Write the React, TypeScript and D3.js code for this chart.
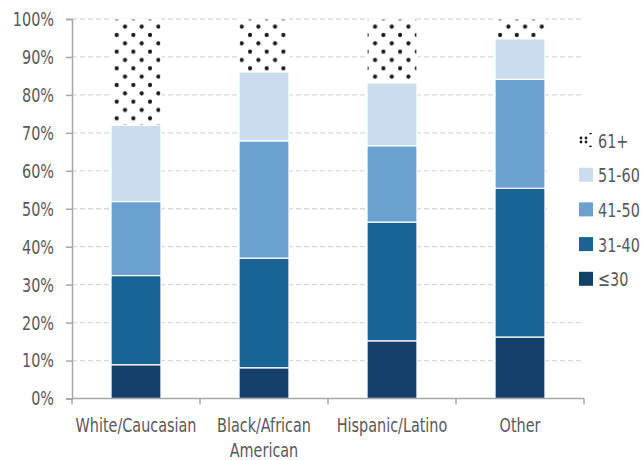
import React, { useEffect, useRef } from 'react';
import * as d3 from 'd3';

const categories = ['White/Caucasian', 'Black/African American', 'Hispanic/Latino', 'Other'];
const ageGroups = ['≤30', '31-40', '41-50', '51-60', '61+'];

// share of each age group per category, in percent
const under30 = [8.9, 8.1, 15.2, 16.2];
const age31to40 = [23.5, 28.9, 31.3, 39.2];
const age41to50 = [19.5, 30.9, 20.1, 28.7];
const age51to60 = [20.1, 18.2, 16.6, 10.7];
const over60 = [28.0, 13.9, 16.8, 5.2];

const yTicks = [0, 10, 20, 30, 40, 50, 60, 70, 80, 90, 100];

const colors = ['#12406a', '#186595', '#6aa1cf', '#cadcee', 'url(#dots)'];

const FONT = '"DejaVu Sans", sans-serif';
const TEXT = '#595959';
const SQUEEZE = 0.8;

// condensed text, squeezed a bit more to get near the tall narrow original face
const styleText = (sel: any, size: number) =>
  sel
    .attr('fill', TEXT)
    .attr('font-family', FONT)
    .style('font-stretch', 'condensed')
    .attr('font-size', size);

const App: React.FC = () => {
  const chartRef = useRef<SVGSVGElement>(null);

  useEffect(() => {
    const width = 643;
    const height = 460;
    const margin = { top: 19, right: 59, bottom: 61.5, left: 72 };
    const plotW = width - margin.left - margin.right;
    const plotH = height - margin.top - margin.bottom;

    const svg = d3.select(chartRef.current);
    svg.selectAll('*').remove();
    svg.attr('width', width).attr('height', height);

    // dotted fill for the 61+ group
    const defs = svg.append('defs');
    const pat = defs
      .append('pattern')
      .attr('id', 'dots')
      .attr('patternUnits', 'userSpaceOnUse')
      .attr('x', 0)
      .attr('y', 1.67)
      .attr('width', 16.67)
      .attr('height', 16.67);
    pat.append('rect').attr('width', 16.67).attr('height', 16.67).attr('fill', '#fff');
    [[0, 0], [16.67, 0], [0, 16.67], [16.67, 16.67], [8.33, 8.33]].forEach(([cx, cy]) =>
      pat.append('circle').attr('cx', cx).attr('cy', cy).attr('r', 2.1).attr('fill', '#1a1a1a')
    );

    const rows = categories.map((c, i) => ({
      category: c,
      '≤30': under30[i],
      '31-40': age31to40[i],
      '41-50': age41to50[i],
      '51-60': age51to60[i],
      '61+': over60[i],
    }));

    const stack = d3.stack<any>().keys(ageGroups);
    const series = stack(rows);

    const x = d3
      .scaleBand()
      .domain(categories)
      .range([margin.left, margin.left + plotW])
      .paddingInner(0.61)
      .paddingOuter(0.305);

    const y = d3
      .scaleLinear()
      .domain([0, 100])
      .range([margin.top + plotH, margin.top]);

    // grid lines
    svg
      .append('g')
      .selectAll('line')
      .data(yTicks.filter((t) => t > 0))
      .join('line')
      .attr('x1', margin.left)
      .attr('x2', margin.left + plotW)
      .attr('y1', (d) => y(d))
      .attr('y2', (d) => y(d))
      .attr('stroke', '#d9d9d9')
      .attr('stroke-width', 1.3)
      .attr('stroke-dasharray', '5,3');

    // stacked bars
    svg
      .append('g')
      .selectAll('g')
      .data(series)
      .join('g')
      .attr('fill', (_, i) => colors[i])
      .selectAll('rect')
      .data((d) => d)
      .join('rect')
      .attr('x', (d) => x(d.data.category) as number)
      .attr('width', x.bandwidth())
      .attr('y', (d) => y(d[1]))
      .attr('height', (d) => y(d[0]) - y(d[1]))
      .attr('stroke', '#fff')
      .attr('stroke-width', 1.2);

    // y axis
    const yAxis = svg
      .append('g')
      .attr('transform', `translate(${margin.left},0)`)
      .call(
        d3
          .axisLeft(y)
          .tickValues(yTicks)
          .tickSize(6)
          .tickPadding(12)
          .tickFormat((d) => `${d}%`)
      );
    yAxis.select('.domain').attr('stroke', '#a6a6a6').attr('stroke-width', 1.5);
    yAxis.selectAll('.tick line').attr('stroke', '#a6a6a6').attr('stroke-width', 1.5);
    styleText(yAxis.selectAll('.tick text'), 20)
      .attr('x', 0)
      .attr('transform', `translate(-18,0) scale(${SQUEEZE},1)`);

    // x axis with ticks between categories
    const xAxisG = svg.append('g').attr('transform', `translate(0,${margin.top + plotH})`);
    xAxisG
      .append('line')
      .attr('x1', margin.left)
      .attr('x2', margin.left + plotW)
      .attr('stroke', '#a6a6a6')
      .attr('stroke-width', 1.5);
    const step = x.step();
    xAxisG
      .selectAll('line.tick')
      .data(d3.range(categories.length + 1))
      .join('line')
      .attr('class', 'tick')
      .attr('x1', (i) => margin.left + i * step)
      .attr('x2', (i) => margin.left + i * step)
      .attr('y1', 0)
      .attr('y2', 6)
      .attr('stroke', '#a6a6a6')
      .attr('stroke-width', 1.5);

    const labelLines = categories.flatMap((c) =>
      (c === 'Black/African American' ? ['Black/African', 'American'] : [c]).map((t, i) => ({
        c,
        t,
        i,
      }))
    );
    styleText(
      xAxisG
        .selectAll('text')
        .data(labelLines)
        .join('text')
        .attr(
          'transform',
          (d) =>
            `translate(${(x(d.c) as number) + x.bandwidth() / 2},${33 + d.i * 25.5}) scale(${SQUEEZE},1)`
        )
        .attr('text-anchor', 'middle')
        .text((d) => d.t),
      20
    );

    // legend
    const legend = svg.append('g');
    legend
      .append('rect')
      .attr('x', 547)
      .attr('y', 122)
      .attr('width', 96)
      .attr('height', 178)
      .attr('fill', '#fff');

    const lpat = defs
      .append('pattern')
      .attr('id', 'legendDots')
      .attr('patternUnits', 'userSpaceOnUse')
      .attr('x', 579)
      .attr('y', 133)
      .attr('width', 14)
      .attr('height', 14);
    [[2, 2], [11, 2], [6.5, 7], [2, 12], [11, 12]].forEach(([cx, cy]) =>
      lpat.append('circle').attr('cx', cx).attr('cy', cy).attr('r', 1.4).attr('fill', '#1a1a1a')
    );

    const legendOrder = [...ageGroups].reverse();
    const item = legend
      .selectAll('g')
      .data(legendOrder)
      .join('g')
      .attr('transform', (_, i) => `translate(579,${133 + i * 34.7})`);
    item
      .append('rect')
      .attr('width', 14)
      .attr('height', 14)
      .attr('fill', (d) => {
        const i = ageGroups.indexOf(d);
        return i === 4 ? 'url(#legendDots)' : colors[i];
      });
    styleText(
      item.append('text').attr('transform', `translate(19,14.5) scale(${SQUEEZE},1)`),
      20
    ).text((d: string) => d);
  }, []);

  return (
    <div style={{ position: 'absolute', left: 0, top: 0 }}>
      <svg ref={chartRef}></svg>
    </div>
  );
};

export default App;
